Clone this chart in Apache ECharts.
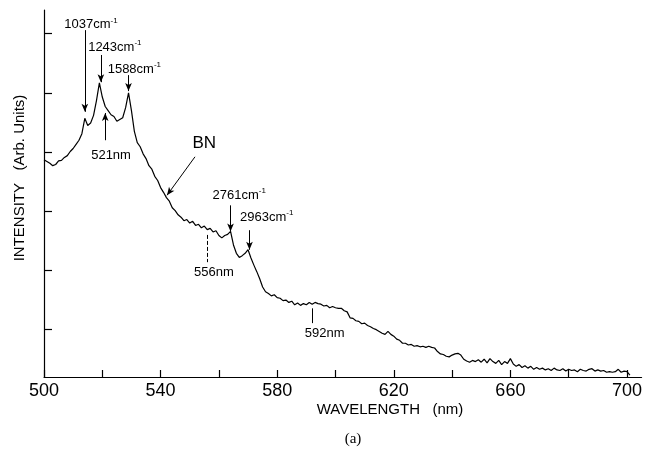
<!DOCTYPE html>
<html>
<head>
<meta charset="utf-8">
<script src="https://cdn.jsdelivr.net/npm/echarts@6/dist/echarts.min.js"></script>
<style>
  html, body { margin: 0; padding: 0; background: #ffffff; }
  #chart { width: 645px; height: 460px; }
</style>
</head>
<body>
<div id="chart"></div>
<script>
// Emission spectrum sampled every 1 nm from 500 nm (arbitrary intensity units)
const startWavelength = 500;
const stepWavelength = 1;
const intensity = [
  38.7, 38.4, 38.1, 37.7, 37.9, 38.5, 38.6, 39.1, 39.4, 40.1,   // 500-509
  40.6, 41.3, 42.0, 43.1, 45.7, 44.5, 44.9, 46.2, 48.7, 51.7,   // 510-519
  49.3, 47.7, 47.0, 46.3, 46.0, 45.2, 45.5, 45.8, 47.5, 50.0,   // 520-529
  47.0, 43.5, 41.6, 40.9, 39.7, 38.9, 37.7, 37.1, 35.9, 35.2,   // 530-539
  34.0, 33.2, 32.3, 31.7, 30.6, 30.1, 29.4, 29.0, 28.4, 28.6,   // 540-549
  28.0, 28.3, 27.6, 27.8, 27.2, 27.5, 26.9, 27.1, 26.5, 26.7,   // 550-559
  25.9, 25.5, 25.9, 26.1, 26.6, 24.3, 22.9, 22.2, 22.5, 22.9,   // 560-569
  23.5, 22.1, 20.9, 19.8, 18.6, 17.2, 16.4, 16.1, 15.7, 15.9,   // 570-579
  15.4, 15.3, 14.9, 15.0, 14.6, 14.8, 14.2, 14.5, 14.1, 14.4,   // 580-589
  14.2, 14.6, 14.3, 14.6, 14.4, 14.3, 14.0, 14.1, 13.7, 13.9,   // 590-599
  13.7, 13.6, 13.6, 13.2, 13.0, 12.0, 11.9, 11.5, 11.4, 11.0,   // 600-609
  11.1, 10.7, 10.5, 10.2, 10.0, 9.7, 9.4, 9.2, 9.7, 9.2,        // 610-619
  8.9, 8.4, 8.2, 7.7, 7.7, 7.4, 7.5, 7.2, 7.3, 7.1,             // 620-629
  7.2, 7.0, 7.2, 7.0, 6.9, 6.3, 5.9, 5.8, 5.5, 5.4,             // 630-639
  5.7, 5.9, 6.0, 5.7, 5.0, 4.7, 4.5, 4.8, 4.6, 4.9,             // 640-649
  4.5, 5.0, 4.4, 5.1, 4.6, 4.3, 4.8, 4.1, 4.6, 4.3,             // 650-659
  5.1, 4.2, 3.8, 4.1, 3.6, 3.9, 3.5, 3.8, 3.3, 3.6,             // 660-669
  3.3, 3.5, 3.2, 3.4, 3.1, 3.5, 3.2, 3.1, 3.4, 3.0,             // 670-679
  3.3, 3.1, 3.2, 2.9, 3.3, 3.1, 3.0, 3.3, 3.4, 3.0,             // 680-689
  3.2, 3.0, 3.1, 2.8, 2.9, 2.8, 2.9, 3.3, 2.8, 3.0,             // 690-699
  2.9, 2.3                                                      // 700-701
];

// Axis ticks
const xTickValues = [500, 520, 540, 560, 580, 600, 620, 640, 660, 680, 700];
const xLabelValues = [500, 540, 580, 620, 660, 700];
const yTickValues = [10, 20, 30, 40, 50, 60];

// Raman lines (cm^-1) excited by the 488 nm line
const excitationNm = 488;
const ramanShifts = [1037, 1243, 1588, 2761, 2963];
const ramanArrowTop = [60.6, 56.4, 53.0, 31.0, 26.8];
const ramanArrowTip = [46.8, 51.8, 50.3, 26.6, 23.5];
const ramanLabelAt = [[516.1, 61.5], [524.3, 57.7], [531.0, 53.9], [567.0, 32.7], [576.4, 28.9]];

// Emission band markers (nm)
const bandWavelengths = [521, 556, 592];
const bandLabelAt = [[523.0, 39.5], [558.3, 19.6], [596.3, 9.4]];

function shiftToWavelength(shift) {
  return 1e7 / (1e7 / excitationNm - shift);
}

const ink = '#000000';
const font = '"Liberation Sans", Arial, Helvetica, sans-serif';

const spectrum = intensity.map((v, i) => [startWavelength + i * stepWavelength, v]);

// Arrow / marker segments in data coordinates
const segments = [];
ramanShifts.forEach((s, i) => {
  const nm = shiftToWavelength(s);
  segments.push([
    { coord: [nm, ramanArrowTop[i]], symbol: 'none' },
    { coord: [nm, ramanArrowTip[i]], symbol: 'arrow' }
  ]);
});
// 521 nm: arrow pointing up to the band
segments.push([
  { coord: [bandWavelengths[0], 42.0], symbol: 'none' },
  { coord: [bandWavelengths[0], 46.6], symbol: 'arrow' }
]);
// 556 nm: dashed marker
segments.push([
  { coord: [bandWavelengths[1], 26.0], symbol: 'none', lineStyle: { type: [4, 2] } },
  { coord: [bandWavelengths[1], 21.4], symbol: 'none' }
]);
// 592 nm: plain tick
segments.push([
  { coord: [bandWavelengths[2], 13.6], symbol: 'none' },
  { coord: [bandWavelengths[2], 11.1], symbol: 'none' }
]);
// BN arrow
segments.push([
  { coord: [551.8, 39.2], symbol: 'none' },
  { coord: [542.2, 32.7], symbol: 'arrow' }
]);

const rich = {
  n: { fontFamily: font, fontSize: 13, color: ink },
  s: { fontFamily: font, fontSize: 8, color: ink, padding: [0, 0, 9, 0] },
  b: { fontFamily: font, fontSize: 17, color: ink }
};

const labelPoints = [];
ramanShifts.forEach((s, i) => {
  labelPoints.push({
    value: ramanLabelAt[i],
    label: { formatter: '{n|' + s + 'cm}{s|-1}' }
  });
});
bandWavelengths.forEach((nm, i) => {
  labelPoints.push({
    value: bandLabelAt[i],
    label: { formatter: '{n|' + nm + 'nm}' }
  });
});
labelPoints.push({
  value: [555.0, 41.5],
  label: { formatter: '{b|BN}' }
});

const chart = echarts.init(document.getElementById('chart'), null, { renderer: 'canvas' });

chart.setOption({
  animation: false,
  backgroundColor: '#ffffff',
  grid: { left: 44, top: 10, width: 598, height: 367, containLabel: false },
  xAxis: {
    type: 'value',
    min: 500,
    max: 705,
    axisLine: { show: true, lineStyle: { color: ink, width: 1.2 } },
    axisTick: {
      show: true, inside: true, length: 7,
      customValues: xTickValues,
      lineStyle: { color: ink, width: 1.2 }
    },
    axisLabel: {
      show: true,
      customValues: xLabelValues,
      margin: 5,
      fontFamily: font,
      fontSize: 18,
      color: ink
    },
    splitLine: { show: false }
  },
  yAxis: {
    type: 'value',
    min: 2,
    max: 64,
    axisLine: { show: true, lineStyle: { color: ink, width: 1.2 } },
    axisTick: {
      show: true, inside: true, length: 8,
      customValues: yTickValues,
      lineStyle: { color: ink, width: 1.2 }
    },
    axisLabel: { show: false },
    splitLine: { show: false }
  },
  series: [
    {
      name: 'spectrum',
      type: 'line',
      data: spectrum,
      symbol: 'none',
      smooth: false,
      lineStyle: { color: ink, width: 1.2 },
      markLine: {
        silent: true,
        symbolSize: [5, 8],
        label: { show: false },
        lineStyle: { color: ink, width: 1, type: 'solid' },
        data: segments
      }
    },
    {
      name: 'annotations',
      type: 'scatter',
      data: labelPoints,
      symbol: 'circle',
      symbolSize: 1,
      itemStyle: { color: 'rgba(0,0,0,0)' },
      silent: true,
      label: {
        show: true,
        position: 'inside',
        rich: rich,
        color: ink,
        textBorderWidth: 0,
        opacity: 1
      }
    }
  ],
  graphic: [
    {
      type: 'text',
      x: 20, y: 178,
      rotation: Math.PI / 2,
      style: {
        text: 'INTENSITY   (Arb. Units)',
        fontFamily: font, fontSize: 15, fill: ink,
        align: 'center', verticalAlign: 'middle'
      }
    },
    {
      type: 'text',
      x: 390, y: 410,
      style: {
        text: 'WAVELENGTH   (nm)',
        fontFamily: font, fontSize: 15, fill: ink,
        align: 'center', verticalAlign: 'middle'
      }
    },
    {
      type: 'text',
      x: 353, y: 439,
      style: {
        text: '(a)',
        fontFamily: '"Liberation Serif", "Times New Roman", serif', fontSize: 15, fill: ink,
        align: 'center', verticalAlign: 'middle'
      }
    }
  ]
});
</script>
</body>
</html>
